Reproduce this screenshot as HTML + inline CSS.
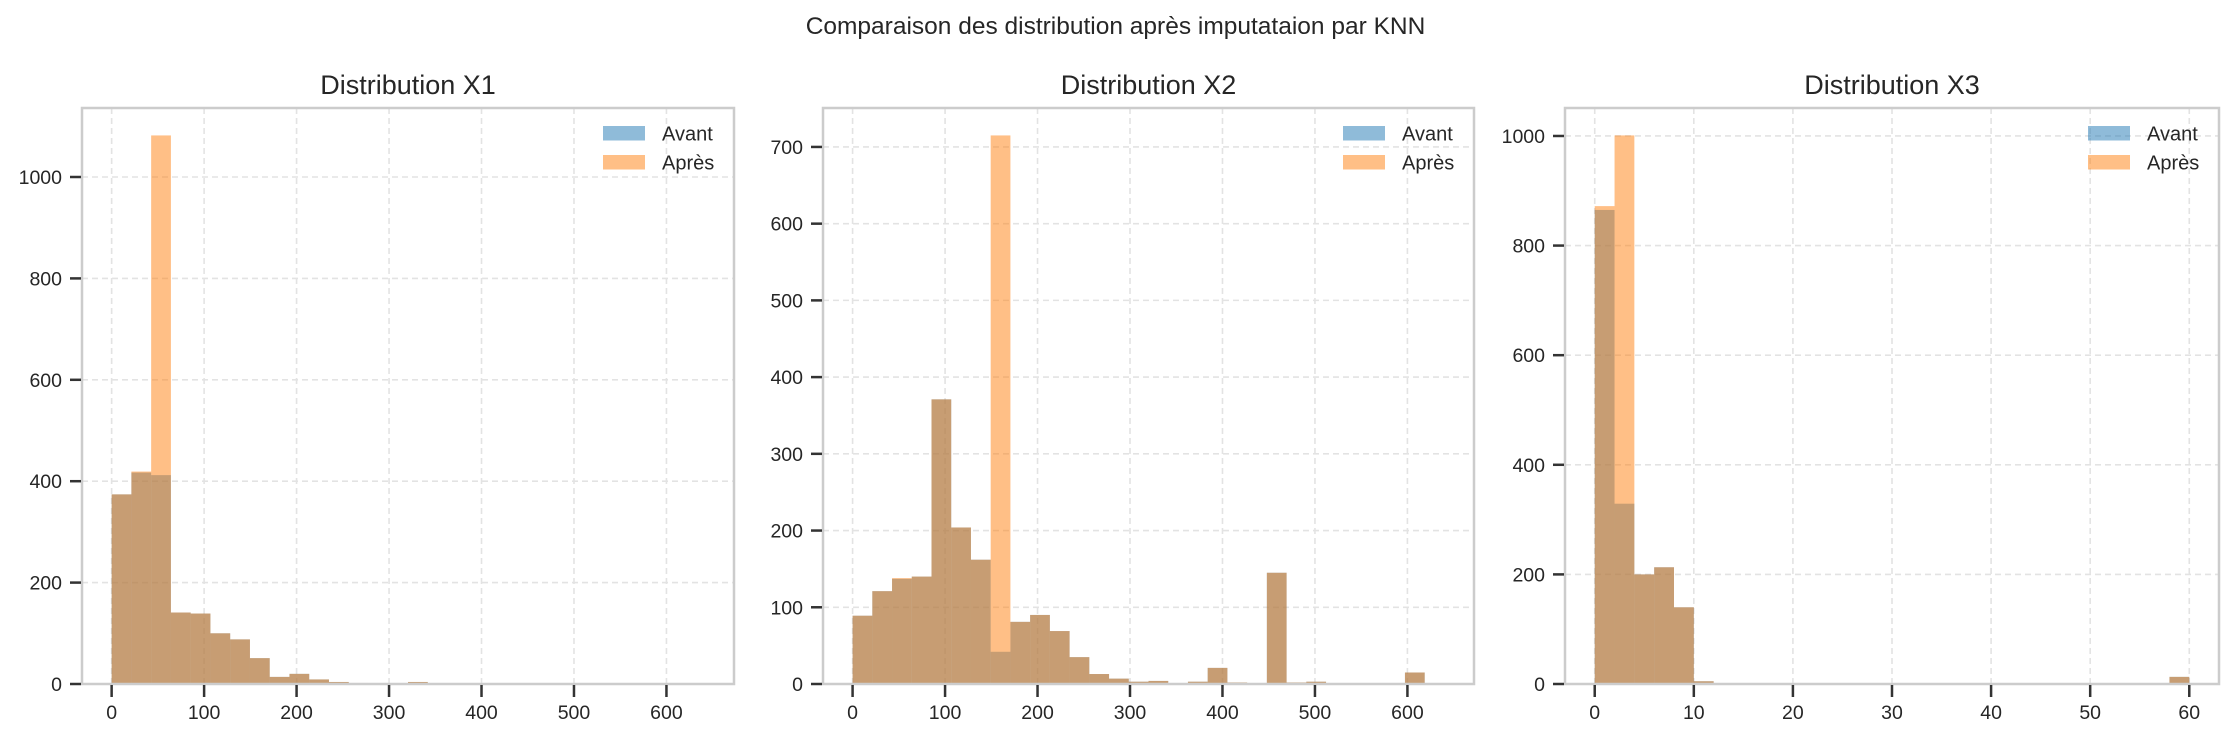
<!DOCTYPE html>
<html><head><meta charset="utf-8">
<style>
html,body{margin:0;padding:0;background:#fff;}
svg{display:block;font-family:"Liberation Sans",Arial,sans-serif;}
</style></head>
<body>
<svg id="fig" width="2231" height="738" viewBox="0 0 2231 738" xmlns="http://www.w3.org/2000/svg">
<text x="1115.5" y="34" text-anchor="middle" font-size="24.5" fill="#262626">Comparaison des distribution après imputataion par KNN</text>
</svg>
<script>
// X1
const x1Range = [0, 641];
const x1Avant = [374,417,412,141,139,100,88,51,14,20,9,4,2,1,1,4,1,0,0,0,0,0,1,0,0,0,0,0,0,1];
const x1Apres = [374,419,1082,141,139,100,88,51,14,20,9,4,2,1,1,4,1,0,0,0,0,0,1,0,0,0,0,0,0,1];
const x1XTicks = [0,100,200,300,400,500,600];
const x1YTicks = [0,200,400,600,800,1000];
// X2
const x2Range = [0, 640];
const x2Avant = [89,121,137,140,371,204,162,42,81,90,69,35,13,7,3,4,0,3,21,2,0,145,2,3,1,0,0,1,15,1];
const x2Apres = [89,121,138,140,371,204,162,715,81,90,69,35,13,7,3,4,0,3,21,2,0,145,2,3,1,0,0,1,15,1];
const x2XTicks = [0,100,200,300,400,500,600];
const x2YTicks = [0,100,200,300,400,500,600,700];
// X3
const x3Range = [0, 60];
const x3Avant = [865,329,200,213,140,5,1,1,1,1,0,0,0,0,0,0,1,0,0,0,0,0,0,0,0,0,0,0,0,13];
const x3Apres = [872,1001,200,213,140,5,1,1,1,1,0,0,0,0,0,0,1,0,0,0,0,0,0,0,0,0,0,0,0,13];
const x3XTicks = [0,10,20,30,40,50,60];
const x3YTicks = [0,200,400,600,800,1000];
const titles = ["Distribution X1","Distribution X2","Distribution X3"];

const NS = "http://www.w3.org/2000/svg";
const svg = document.getElementById('fig');
function mk(tag, attrs, parent){
  const e = document.createElementNS(NS, tag);
  for (const k in attrs) e.setAttribute(k, attrs[k]);
  (parent||svg).appendChild(e);
  return e;
}
const panels = [
  {L:82, R:734, range:x1Range, av:x1Avant, ap:x1Apres, xt:x1XTicks, yt:x1YTicks, title:titles[0], id:'x1'},
  {L:823, R:1474, range:x2Range, av:x2Avant, ap:x2Apres, xt:x2XTicks, yt:x2YTicks, title:titles[1], id:'x2'},
  {L:1565, R:2219, range:x3Range, av:x3Avant, ap:x3Apres, xt:x3XTicks, yt:x3YTicks, title:titles[2], id:'x3'}
];
const T = 108, B = 684;
panels.forEach(p => {
  const g = mk('g', {});
  
  
  const span = p.range[1]-p.range[0];
  const xmin = p.range[0]-0.05*span, xmax = p.range[1]+0.05*span;
  const ymax = Math.max(...p.av, ...p.ap)*1.05;
  const sx = v => p.L + (v - xmin)/(xmax - xmin)*(p.R - p.L);
  const sy = v => B - v/ymax*(B - T);
  p.xt.forEach(v => {
    const l = mk('line', {x1:sx(v), x2:sx(v), y1:T, y2:B, stroke:'#e3e3e3', 'stroke-width':1.6, 'stroke-dasharray':'6,4'}, g);
    
    
  });
  p.yt.forEach(v => {
    const l = mk('line', {x1:p.L, x2:p.R, y1:sy(v), y2:sy(v), stroke:'#e3e3e3', 'stroke-width':1.6, 'stroke-dasharray':'6,4'}, g);
    
    
  });
  const n = p.av.length, w = span/n;
  [[p.av,'#1f77b4','avant'],[p.ap,'#ff7f0e','apres']].forEach(([arr,col,nm]) => {
    arr.forEach((v,i) => {
      if (v <= 0) return;
      const x0 = sx(p.range[0]+i*w), x1 = sx(p.range[0]+(i+1)*w);
      const r = mk('rect', {x:x0, y:sy(v), width:x1-x0, height:B-sy(v), fill:col, 'fill-opacity':0.5}, g);
      
      
    });
  });
  const f = mk('rect', {x:p.L, y:T, width:p.R-p.L, height:B-T, fill:'none', stroke:'#cccccc', 'stroke-width':2.5}, g);
  
  
  p.xt.forEach(v => {
    mk('line', {x1:sx(v), x2:sx(v), y1:B+1, y2:B+13, stroke:'#333', 'stroke-width':2.5}, g);
    const t = mk('text', {x:sx(v), y:719, 'text-anchor':'middle', 'font-size':19.5, fill:'#262626'}, g);
    t.textContent = v;
    
    
  });
  p.yt.forEach(v => {
    mk('line', {x1:p.L-12, x2:p.L-1, y1:sy(v), y2:sy(v), stroke:'#333', 'stroke-width':2.5}, g);
    const t = mk('text', {x:p.L-20, y:sy(v)+7, 'text-anchor':'end', 'font-size':19.5, fill:'#262626'}, g);
    t.textContent = v;
    
    
  });
  const tt = mk('text', {x:(p.L+p.R)/2, y:94, 'text-anchor':'middle', 'font-size':27, fill:'#262626'}, g);
  tt.textContent = p.title;
  
  
  const lg = mk('g', {}, g);
  
  
  [['Avant','#1f77b4',126],['Après','#ff7f0e',155]].forEach(([lab,col,y]) => {
    const r = mk('rect', {x:p.R-131, y:y, width:42, height:14.5, fill:col, 'fill-opacity':0.5}, lg);
    
    
    const t = mk('text', {x:p.R-72, y:y+14.5, 'font-size':20, fill:'#262626'}, lg);
    t.textContent = lab;
    
    
  });
});
</script>
</body></html>
